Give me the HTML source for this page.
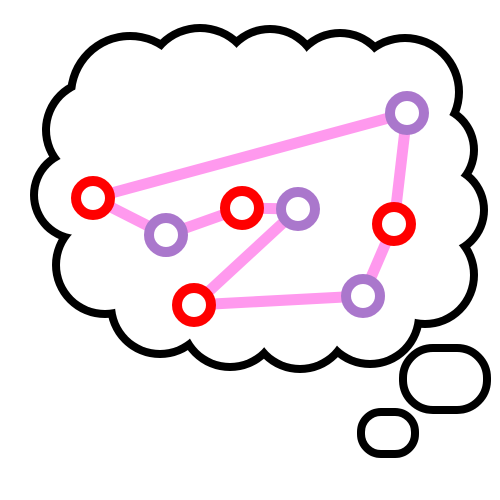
<!DOCTYPE html>
<html><head><meta charset="utf-8"><style>html,body{margin:0;padding:0;background:#fff;width:500px;height:500px;overflow:hidden}</style></head>
<body>
<svg id="svg" width="500" height="500" viewBox="0 0 500 500" xmlns="http://www.w3.org/2000/svg">
<g id="cloud"></g>
<rect x="403" y="348" width="84" height="62" rx="30" fill="#fff" stroke="#000" stroke-width="8"/>
<rect x="361" y="412" width="54" height="42" rx="20" fill="#fff" stroke="#000" stroke-width="8"/>
<g id="edges"></g>
<g id="nodes"></g>
</svg>
<script>
const nodeX = [93,166,242,298,194,363,394,407];
const nodeY = [198,235,208,209,305,296,224,113];
const nodeColor = ['red','purple','red','purple','red','purple','red','purple'];
const edgeFrom = [0,0,1,2,3,4,5,6];
const edgeTo = [7,1,2,3,4,5,6,7];
const NS='http://www.w3.org/2000/svg';
const bumps=[[130,95,55],[200,82,50],[270,78,45],[340,82,45],[405,92,50],[430,150,40],[440,210,40],[425,275,45],[370,315,45],[300,320,45],[230,318,45],[160,305,45],[105,265,45],[78,195,40],[95,130,45]];
const cloud=document.getElementById('cloud');
function circ(g,cx,cy,r,fill){const c=document.createElementNS(NS,'circle');c.setAttribute('cx',cx);c.setAttribute('cy',cy);c.setAttribute('r',r);c.setAttribute('fill',fill);g.appendChild(c);return c;}
bumps.forEach(b=>{const c=circ(cloud,b[0],b[1],b[2]+8,'#000');

});
bumps.forEach(b=>{const c=circ(cloud,b[0],b[1],b[2],'#fff');

});
const center=document.createElementNS(NS,'polygon');
center.setAttribute('points',bumps.map(b=>b[0]+','+b[1]).join(' '));
center.setAttribute('fill','#fff');


cloud.appendChild(center);
const eg=document.getElementById('edges');
for(let i=0;i<edgeFrom.length;i++){const l=document.createElementNS(NS,'line');
l.setAttribute('x1',nodeX[edgeFrom[i]]);l.setAttribute('y1',nodeY[edgeFrom[i]]);
l.setAttribute('x2',nodeX[edgeTo[i]]);l.setAttribute('y2',nodeY[edgeTo[i]]);
l.setAttribute('stroke','#ff99ee');l.setAttribute('stroke-width',11);


eg.appendChild(l);}
const ng=document.getElementById('nodes');
for(let i=0;i<nodeX.length;i++){const c=circ(ng,nodeX[i],nodeY[i],17,'#fff');
c.setAttribute('stroke',nodeColor[i]==='red'?'#ff0000':'#aa77cc');c.setAttribute('stroke-width',10);

}
</script>
</body></html>
